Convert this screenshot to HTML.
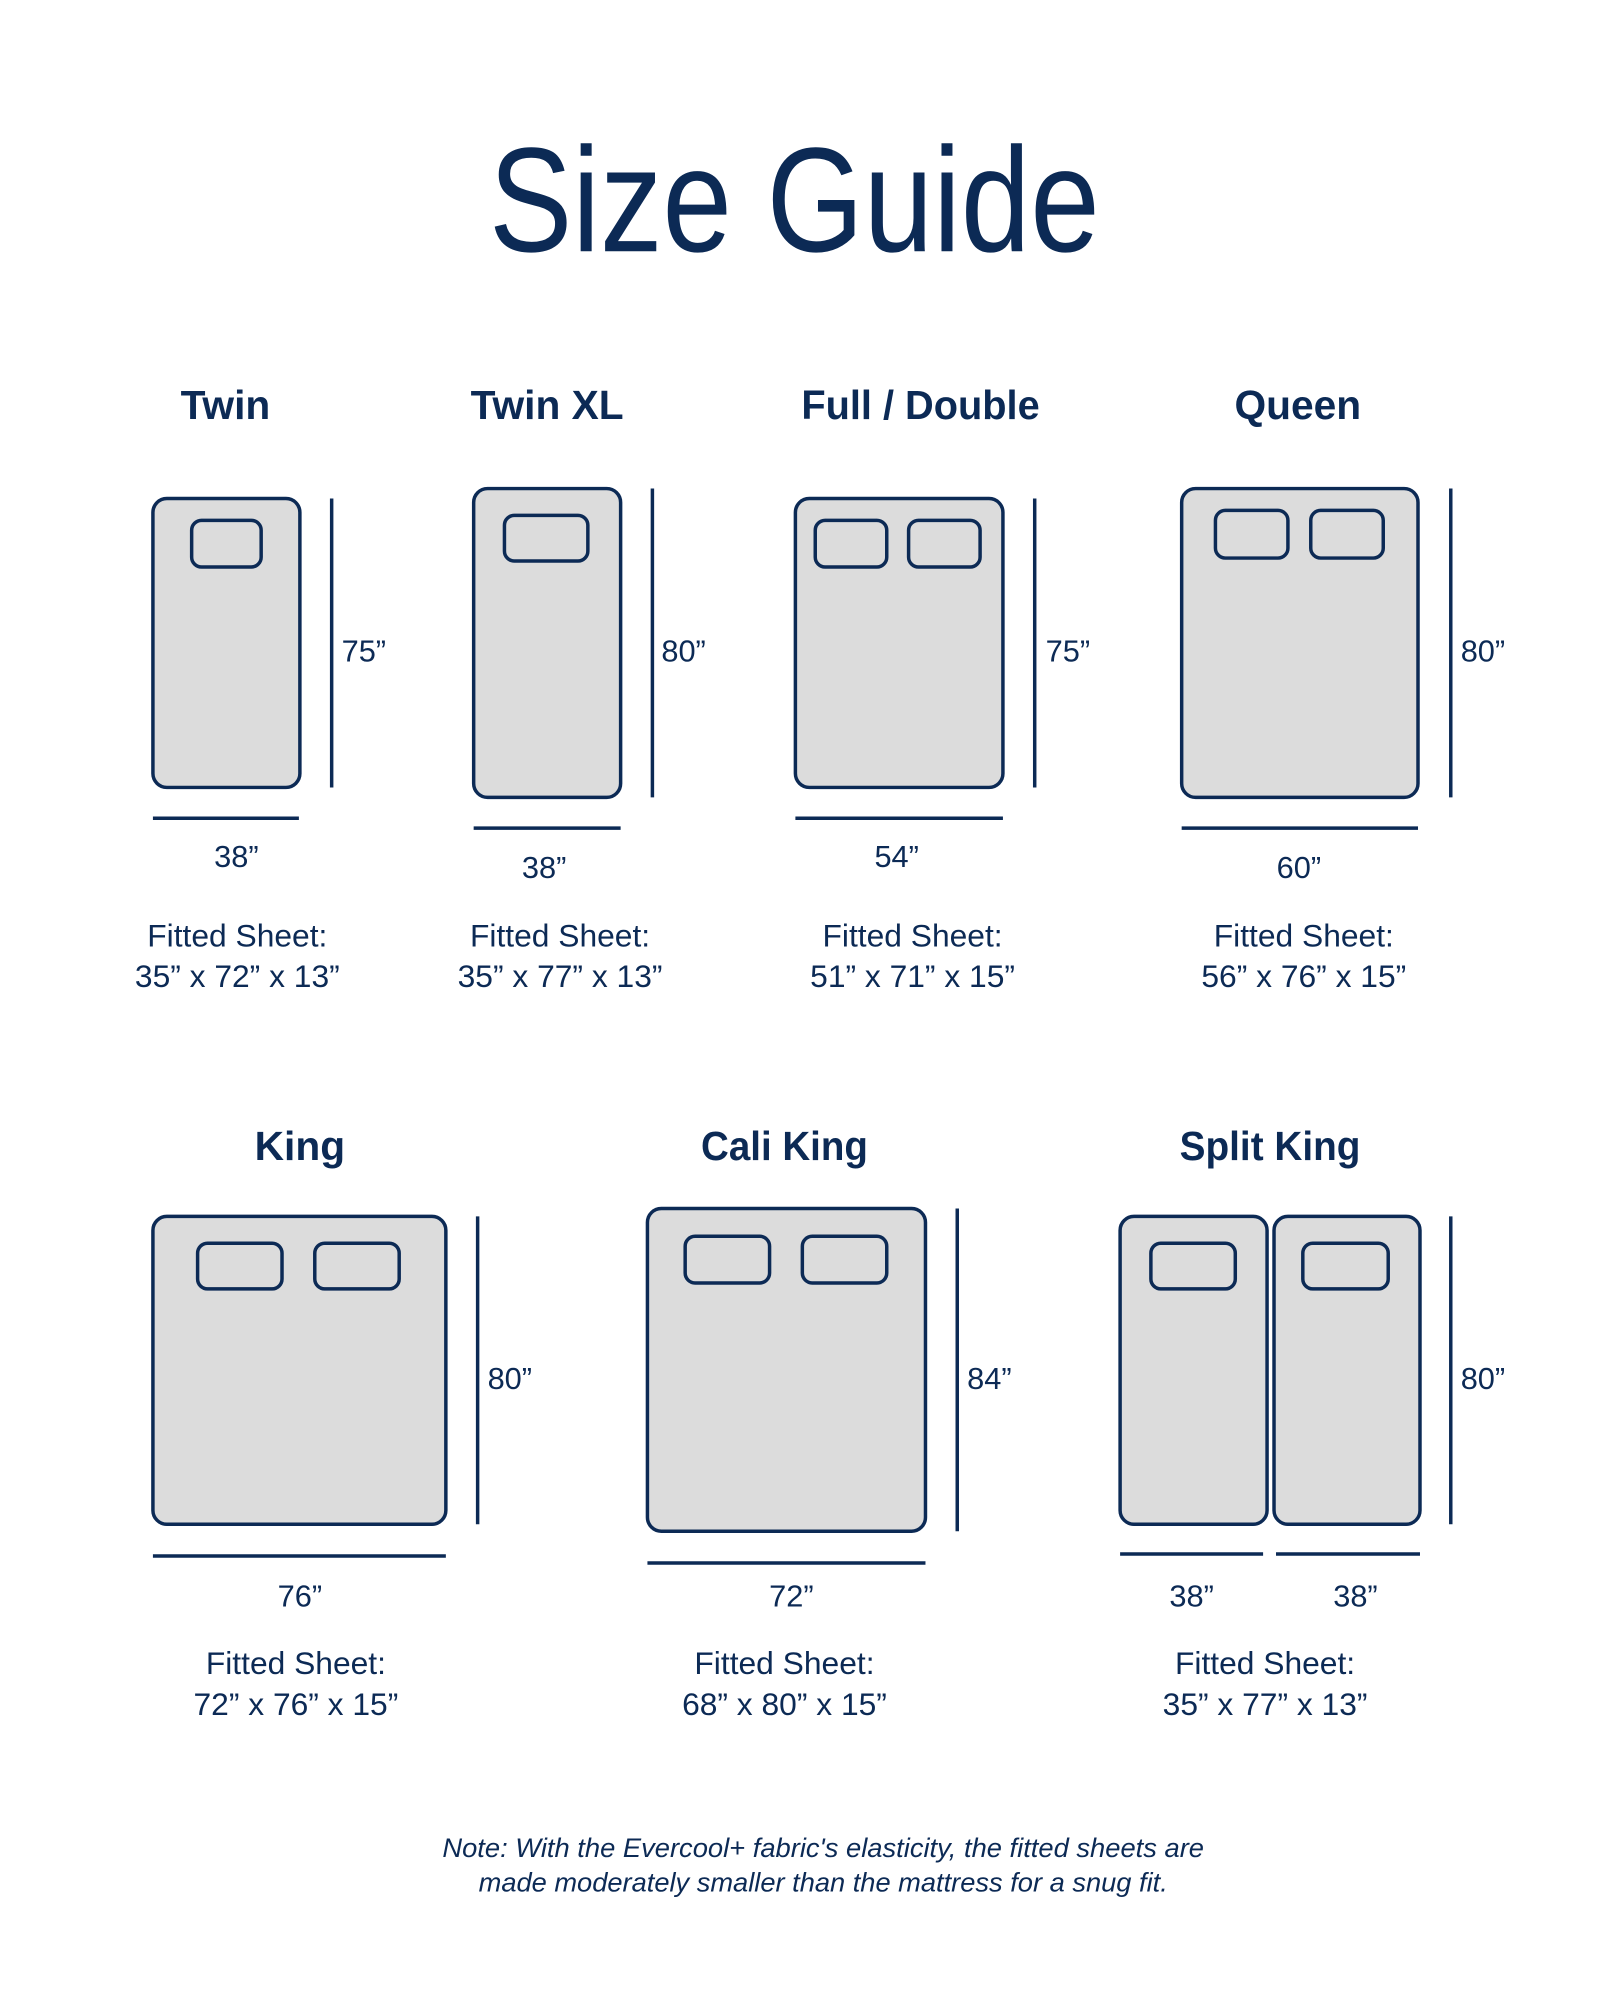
<!DOCTYPE html>
<html><head><meta charset="utf-8"><style>
html,body{margin:0;padding:0;background:#fff;}
svg{display:block;}
text{font-family:"Liberation Sans",sans-serif;fill:#0c2a55;}
.h{font-weight:bold;font-size:41px;}
.d{font-size:31px;}
.f{font-size:32px;}
</style></head><body>
<svg width="1600" height="2000" viewBox="0 0 1600 2000" xmlns="http://www.w3.org/2000/svg">
<rect width="1600" height="2000" fill="#fff"/>
<g transform="scale(0.993)">
<text x="800" y="253" text-anchor="middle" font-size="150" textLength="615" lengthAdjust="spacingAndGlyphs">Size Guide</text>

<g fill="#dcdcdc" stroke="#0c2a55" stroke-width="3.5">
<rect x="154" y="502" width="148" height="291" rx="14"/>
<rect x="193" y="524" width="70" height="47" rx="10"/>
<rect x="477" y="492" width="148" height="311" rx="14"/>
<rect x="508" y="519" width="84" height="46" rx="10"/>
<rect x="801" y="502" width="209" height="291" rx="14"/>
<rect x="821" y="524" width="72" height="47" rx="10"/>
<rect x="915" y="524" width="72" height="47" rx="10"/>
<rect x="1190" y="492" width="238" height="311" rx="14"/>
<rect x="1224" y="514" width="73" height="48" rx="10"/>
<rect x="1320" y="514" width="73" height="48" rx="10"/>
<rect x="154" y="1225" width="295" height="310" rx="14"/>
<rect x="199" y="1252" width="85" height="46" rx="10"/>
<rect x="317" y="1252" width="85" height="46" rx="10"/>
<rect x="652" y="1217" width="280" height="325" rx="14"/>
<rect x="690" y="1245" width="85" height="47" rx="10"/>
<rect x="808" y="1245" width="85" height="47" rx="10"/>
<rect x="1128" y="1225" width="148" height="310" rx="14"/>
<rect x="1283" y="1225" width="147" height="310" rx="14"/>
<rect x="1159" y="1252" width="85" height="46" rx="10"/>
<rect x="1312" y="1252" width="86" height="46" rx="10"/>
</g>

<g stroke="#0c2a55" stroke-width="3.5">
<line x1="334" y1="502" x2="334" y2="793"/>
<line x1="154" y1="824" x2="301" y2="824"/>
<line x1="657" y1="492" x2="657" y2="803"/>
<line x1="477" y1="834" x2="625" y2="834"/>
<line x1="1042" y1="502" x2="1042" y2="793"/>
<line x1="801" y1="824" x2="1010" y2="824"/>
<line x1="1461" y1="492" x2="1461" y2="803"/>
<line x1="1190" y1="834" x2="1428" y2="834"/>
<line x1="481" y1="1225" x2="481" y2="1535"/>
<line x1="154" y1="1567" x2="449" y2="1567"/>
<line x1="964" y1="1217" x2="964" y2="1542"/>
<line x1="652" y1="1574" x2="932" y2="1574"/>
<line x1="1461" y1="1225" x2="1461" y2="1535"/>
<line x1="1128" y1="1565" x2="1272" y2="1565"/>
<line x1="1285" y1="1565" x2="1430" y2="1565"/>
</g>

<text class="h" x="227" y="422" text-anchor="middle">Twin</text>
<text class="h" x="551" y="422" text-anchor="middle">Twin XL</text>
<text class="h" x="927" y="422" text-anchor="middle" textLength="240" lengthAdjust="spacingAndGlyphs">Full / Double</text>
<text class="h" x="1307" y="422" text-anchor="middle">Queen</text>
<text class="h" x="302" y="1168" text-anchor="middle">King</text>
<text class="h" x="790" y="1168" text-anchor="middle" textLength="168" lengthAdjust="spacingAndGlyphs">Cali King</text>
<text class="h" x="1279" y="1168" text-anchor="middle" textLength="182" lengthAdjust="spacingAndGlyphs">Split King</text>

<text class="d" x="344" y="666">75”</text>
<text class="d" x="666" y="666">80”</text>
<text class="d" x="1053" y="666">75”</text>
<text class="d" x="1471" y="666">80”</text>
<text class="d" x="238" y="873" text-anchor="middle">38”</text>
<text class="d" x="548" y="884" text-anchor="middle">38”</text>
<text class="d" x="903" y="873" text-anchor="middle">54”</text>
<text class="d" x="1308" y="884" text-anchor="middle">60”</text>
<text class="d" x="491" y="1399">80”</text>
<text class="d" x="974" y="1399">84”</text>
<text class="d" x="1471" y="1399">80”</text>
<text class="d" x="302" y="1618" text-anchor="middle">76”</text>
<text class="d" x="797" y="1618" text-anchor="middle">72”</text>
<text class="d" x="1200" y="1618" text-anchor="middle">38”</text>
<text class="d" x="1365" y="1618" text-anchor="middle">38”</text>

<text class="f" x="239" y="953" text-anchor="middle">Fitted Sheet:</text>
<text class="f" x="239" y="994" text-anchor="middle">35” x 72” x 13”</text>
<text class="f" x="564" y="953" text-anchor="middle">Fitted Sheet:</text>
<text class="f" x="564" y="994" text-anchor="middle">35” x 77” x 13”</text>
<text class="f" x="919" y="953" text-anchor="middle">Fitted Sheet:</text>
<text class="f" x="919" y="994" text-anchor="middle">51” x 71” x 15”</text>
<text class="f" x="1313" y="953" text-anchor="middle">Fitted Sheet:</text>
<text class="f" x="1313" y="994" text-anchor="middle">56” x 76” x 15”</text>
<text class="f" x="298" y="1686" text-anchor="middle">Fitted Sheet:</text>
<text class="f" x="298" y="1727" text-anchor="middle">72” x 76” x 15”</text>
<text class="f" x="790" y="1686" text-anchor="middle">Fitted Sheet:</text>
<text class="f" x="790" y="1727" text-anchor="middle">68” x 80” x 15”</text>
<text class="f" x="1274" y="1686" text-anchor="middle">Fitted Sheet:</text>
<text class="f" x="1274" y="1727" text-anchor="middle">35” x 77” x 13”</text>

<text x="829" y="1870" text-anchor="middle" font-size="27" font-style="italic" textLength="767" lengthAdjust="spacingAndGlyphs">Note: With the Evercool+ fabric's elasticity, the fitted sheets are</text>
<text x="829" y="1905" text-anchor="middle" font-size="27" font-style="italic" textLength="694" lengthAdjust="spacingAndGlyphs">made moderately smaller than the mattress for a snug fit.</text>
</g>
</svg>
</body></html>
